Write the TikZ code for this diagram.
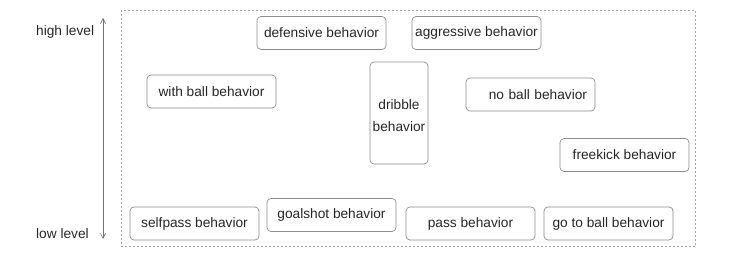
\documentclass[tikz,border=0pt]{standalone}
\usepackage{fontspec}
\setmainfont{Liberation Sans}
\usetikzlibrary{arrows.meta}
\begin{document}
\begin{tikzpicture}[x=1pt,y=-1pt,
  bhv/.style={draw=black!45, line width=0.7pt, rounded corners=4pt, minimum width=129pt, minimum height=33pt, inner sep=0pt, text=black!85, font=\fontsize{13.7}{22}\selectfont},
  lvl/.style={text=black!85, font=\fontsize{13.7}{16}\selectfont, inner sep=0pt},
  frame/.style={draw=black!35, line width=0.6pt, dash pattern=on 2pt off 2pt}]
\useasboundingbox (0,0) rectangle (733,261);
\draw[frame] (121,10) rectangle (695,246.5);
\node[bhv] (def) at (321.5,33) {defensive behavior};
\node[bhv] (agg) at (476.5,33) {aggressive behavior};
\node[bhv] (wb) at (211.5,91.5) {with ball behavior};
\node[bhv, minimum width=58pt, minimum height=102pt] (dr) at (399,113) {\raisebox{0pt}[\dimexpr\height+6pt\relax][\depth]{\begin{tabular}{@{}c@{}}dribble\\behavior\end{tabular}}};
\node[bhv, text width=113pt, inner xsep=8pt, align=right] (nb) at (530.5,94.5) {no ball behavior};
\node[bhv] (fk) at (624.5,155) {freekick behavior};
\node[bhv] (sp) at (194.5,223.5) {selfpass behavior};
\node[bhv] (gs) at (331.5,215) {goalshot behavior};
\node[bhv] (ps) at (470.5,223.5) {pass behavior};
\node[bhv] (gb) at (608.5,223.5) {go to ball behavior};
\node[lvl, anchor=west] (hi) at (36,31.5) {high level};
\node[lvl, anchor=west] (lo) at (36,234) {low level};
\coordinate (atop) at (103,18);
\coordinate (abot) at (103,239);
\draw[black!55, line width=0.6pt, {Straight Barb[length=5pt,width=5pt]}-{Straight Barb[length=5pt,width=5pt]}] (atop) -- (abot);
\end{tikzpicture}
\end{document}
